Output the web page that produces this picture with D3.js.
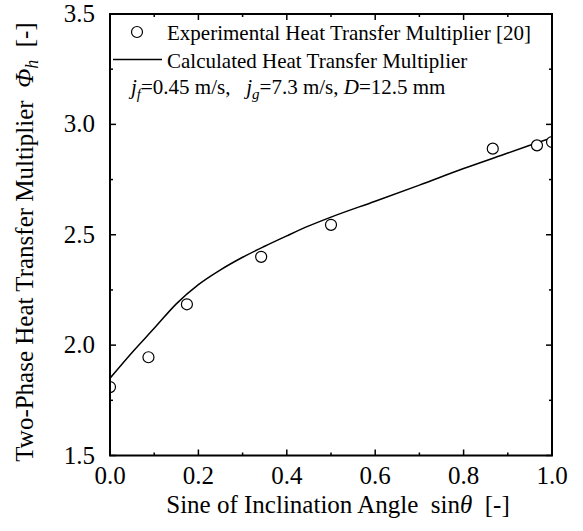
<!DOCTYPE html>
<html>
<head>
<meta charset="utf-8">
<script src="https://cdn.jsdelivr.net/npm/d3@7"></script>
<style>
  body { margin: 0; background: #fff; }
  svg { display: block; }
  text { font-family: "Liberation Serif", "Times New Roman", serif; fill: #000; white-space: pre; }
</style>
</head>
<body>
<svg id="canvas"></svg>
<script>
const width = 583;
const height = 531;

// experimental points (sin of 0,5,10,20,30,60,75,90 deg)
const expX = [0, 0.087, 0.174, 0.342, 0.5, 0.866, 0.966, 1.0];
const expY = [1.81, 1.945, 2.185, 2.40, 2.545, 2.89, 2.905, 2.92];

// calculated curve
const calcX = [0, 0.05, 0.1, 0.15, 0.2, 0.25, 0.3, 0.35, 0.4, 0.45, 0.5, 0.6, 0.7, 0.8, 0.9, 1.0];
const calcY = [1.85, 1.967, 2.076, 2.187, 2.274, 2.341, 2.398, 2.448, 2.495, 2.54, 2.58, 2.652, 2.725, 2.80, 2.87, 2.94];

const xTicks = [0, 0.2, 0.4, 0.6, 0.8, 1.0];
const xMinor = [0.1, 0.3, 0.5, 0.7, 0.9];
const yTicks = [1.5, 2.0, 2.5, 3.0, 3.5];
const yMinor = [1.75, 2.25, 2.75, 3.25];

const margin = { left: 110, right: 31, top: 14, bottom: 75.5 };
const x0 = margin.left, x1 = width - margin.right;
const y0 = height - margin.bottom, y1 = margin.top;

const svg = d3.select("#canvas")
  .attr("width", width)
  .attr("height", height);

const xScale = d3.scaleLinear().domain([0, 1]).range([x0, x1]);
const yScale = d3.scaleLinear().domain([1.5, 3.5]).range([y0, y1]);

svg.append("defs").append("clipPath").attr("id", "plotclip")
  .append("rect")
  .attr("x", x0).attr("y", y1)
  .attr("width", x1 - x0).attr("height", y0 - y1);

const plot = svg.append("g").attr("clip-path", "url(#plotclip)");

// calculated line
const calc = calcX.map((v, i) => [v, calcY[i]]);
plot.append("path")
  .datum(calc)
  .attr("fill", "none")
  .attr("stroke", "#000")
  .attr("stroke-width", 1.5)
  .attr("d", d3.line()
    .x(d => xScale(d[0]))
    .y(d => yScale(d[1]))
    .curve(d3.curveMonotoneX));

// experimental circles
plot.selectAll("circle.exp")
  .data(expX.map((v, i) => [v, expY[i]]))
  .enter()
  .append("circle")
  .attr("class", "exp")
  .attr("cx", d => xScale(d[0]))
  .attr("cy", d => yScale(d[1]))
  .attr("r", 5.5)
  .attr("fill", "#fff")
  .attr("stroke", "#000")
  .attr("stroke-width", 1.2);

// ticks (inward, all four sides)
const tickG = svg.append("g").attr("stroke", "#000").attr("stroke-width", 1.5);
function xTick(v, len) {
  tickG.append("line").attr("x1", xScale(v)).attr("x2", xScale(v)).attr("y1", y0).attr("y2", y0 - len);
  tickG.append("line").attr("x1", xScale(v)).attr("x2", xScale(v)).attr("y1", y1).attr("y2", y1 + len);
}
function yTick(v, len) {
  tickG.append("line").attr("y1", yScale(v)).attr("y2", yScale(v)).attr("x1", x0).attr("x2", x0 + len);
  tickG.append("line").attr("y1", yScale(v)).attr("y2", yScale(v)).attr("x1", x1).attr("x2", x1 - len);
}
xTicks.forEach(v => xTick(v, 6));
xMinor.forEach(v => xTick(v, 3));
yTicks.forEach(v => yTick(v, 6));
yMinor.forEach(v => yTick(v, 3));

// frame
svg.append("rect")
  .attr("x", x0).attr("y", y1)
  .attr("width", x1 - x0).attr("height", y0 - y1)
  .attr("fill", "none")
  .attr("stroke", "#000")
  .attr("stroke-width", 2);

// tick labels
svg.selectAll("text.xt")
  .data(xTicks)
  .enter()
  .append("text")
  .attr("class", "xt")
  .attr("x", d => xScale(d))
  .attr("y", y0 + 28)
  .attr("text-anchor", "middle")
  .attr("font-size", 25)
  .text(d => d.toFixed(1));

svg.selectAll("text.yt")
  .data(yTicks)
  .enter()
  .append("text")
  .attr("class", "yt")
  .attr("x", x0 - 15)
  .attr("y", d => yScale(d) + 8)
  .attr("text-anchor", "end")
  .attr("font-size", 25)
  .text(d => d.toFixed(1));

// axis titles
const xt = svg.append("text")
  .attr("x", 338)
  .attr("y", 513)
  .attr("text-anchor", "middle")
  .attr("font-size", 25);
xt.append("tspan").text("Sine of Inclination Angle  sin");
xt.append("tspan").attr("font-style", "italic").text("θ");
xt.append("tspan").text("  [-]");

const yt = svg.append("text")
  .attr("transform", "translate(33,242) rotate(-90)")
  .attr("text-anchor", "middle")
  .attr("font-size", 25);
yt.append("tspan").text("Two-Phase Heat Transfer Multiplier  ");
yt.append("tspan").attr("font-style", "italic").text("Φ");
yt.append("tspan").attr("font-style", "italic").attr("font-size", 18).attr("dy", 5).text("h");
yt.append("tspan").attr("dy", -5).text("  [-]");

// legend
svg.append("circle")
  .attr("cx", 137).attr("cy", 32).attr("r", 5.5)
  .attr("fill", "#fff").attr("stroke", "#000").attr("stroke-width", 1.2);
svg.append("text")
  .attr("x", 167).attr("y", 40)
  .attr("font-size", 21)
  .text("Experimental Heat Transfer Multiplier [20]");

svg.append("line")
  .attr("x1", 113).attr("x2", 162).attr("y1", 59.5).attr("y2", 59.5)
  .attr("stroke", "#000").attr("stroke-width", 1.5);
svg.append("text")
  .attr("x", 167).attr("y", 68)
  .attr("font-size", 21)
  .text("Calculated Heat Transfer Multiplier");

const cond = svg.append("text")
  .attr("x", 131).attr("y", 94)
  .attr("font-size", 21);
cond.append("tspan").attr("font-style", "italic").text("j");
cond.append("tspan").attr("font-style", "italic").attr("font-size", 15).attr("dy", 5).text("f");
cond.append("tspan").attr("dy", -5).text("=0.45 m/s,   ");
cond.append("tspan").attr("font-style", "italic").text("j");
cond.append("tspan").attr("font-style", "italic").attr("font-size", 15).attr("dy", 5).text("g");
cond.append("tspan").attr("dy", -5).text("=7.3 m/s, ");
cond.append("tspan").attr("font-style", "italic").text("D");
cond.append("tspan").text("=12.5 mm");
</script>
</body>
</html>
